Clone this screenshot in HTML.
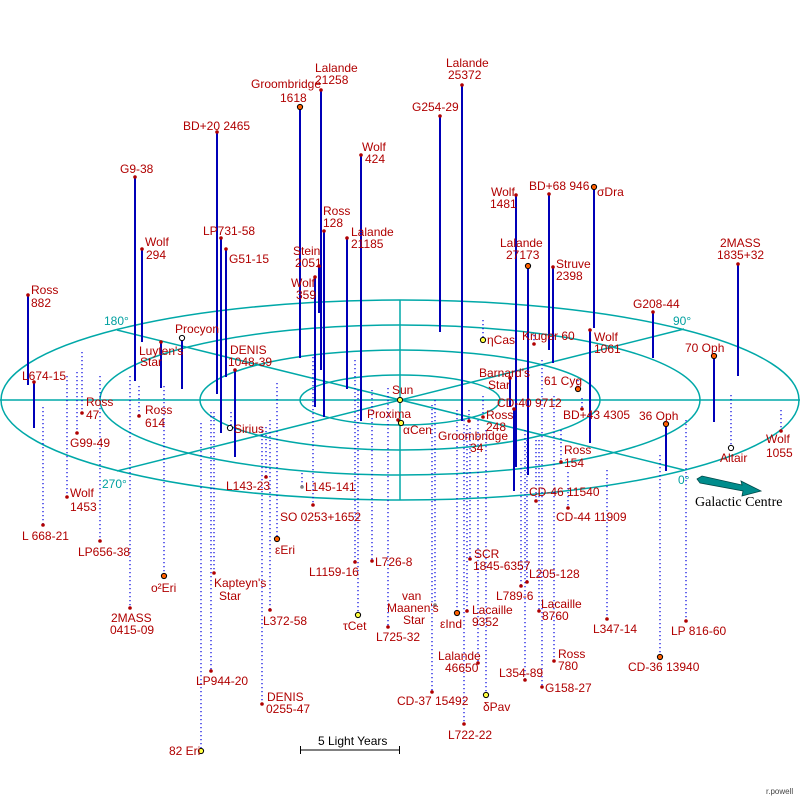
<!DOCTYPE html>
<html><head><meta charset="utf-8"><style>
html,body{margin:0;padding:0;background:#fff;}
svg{display:block;}
text{font-family:"Liberation Sans",sans-serif;font-size:12px;fill:#b00000;}
.t{fill:#00a0a0;}
.s{stroke:#0000b8;stroke-width:2;}
.d{stroke:#0000e0;stroke-width:1.2;stroke-dasharray:1.2 2.8;}
.g{fill:none;stroke:#00a8a8;stroke-width:1.5;}
.m{fill:#b00000;}
</style></head><body>
<svg width="800" height="800" viewBox="0 0 800 800" xmlns="http://www.w3.org/2000/svg">
<rect width="800" height="800" fill="#fff"/>
<!-- grid -->
<ellipse class="g" cx="400" cy="400" rx="100" ry="25"/>
<ellipse class="g" cx="400" cy="400" rx="200" ry="50"/>
<ellipse class="g" cx="400" cy="400" rx="300" ry="75"/>
<ellipse class="g" cx="400" cy="400" rx="399" ry="100"/>
<line class="g" x1="0" y1="400" x2="800" y2="400"/>
<line class="g" x1="400" y1="300" x2="400" y2="500"/>
<line class="g" x1="117" y1="330" x2="684" y2="470"/>
<line class="g" x1="117" y1="471" x2="684" y2="329"/>
<text class="t" x="104" y="325">180°</text>
<text class="t" x="673" y="325">90°</text>
<text class="t" x="102" y="488">270°</text>
<text class="t" x="678" y="484">0°</text>

<!-- solid (above plane) -->
<g>
<line class="s" x1="28" y1="295" x2="28" y2="385"/>
<line class="s" x1="34" y1="382" x2="34" y2="428"/>
<line class="s" x1="135" y1="177" x2="135" y2="381"/>
<line class="s" x1="142" y1="249" x2="142" y2="342"/>
<line class="s" x1="217" y1="132" x2="217" y2="394"/>
<line class="s" x1="221" y1="238" x2="221" y2="433"/>
<line class="s" x1="226" y1="249" x2="226" y2="377"/>
<line class="s" x1="161" y1="342" x2="161" y2="388"/>
<line class="s" x1="182" y1="338" x2="182" y2="389"/>
<line class="s" x1="235" y1="370" x2="235" y2="457"/>
<line class="s" x1="300" y1="107" x2="300" y2="358"/>
<line class="s" x1="321" y1="90" x2="321" y2="370"/>
<line class="s" x1="319" y1="266" x2="319" y2="313"/>
<line class="s" x1="315" y1="277" x2="315" y2="407"/>
<line class="s" x1="324" y1="231" x2="324" y2="417"/>
<line class="s" x1="347" y1="238" x2="347" y2="389"/>
<line class="s" x1="361" y1="155" x2="361" y2="421"/>
<line class="s" x1="440" y1="116" x2="440" y2="332"/>
<line class="s" x1="462" y1="85" x2="462" y2="421"/>
<line class="s" x1="516" y1="195" x2="516" y2="467"/>
<line class="s" x1="528" y1="266" x2="528" y2="475"/>
<line class="s" x1="549" y1="194" x2="549" y2="350"/>
<line class="s" x1="553" y1="267" x2="553" y2="363"/>
<line class="s" x1="594" y1="187" x2="594" y2="328"/>
<line class="s" x1="590" y1="330" x2="590" y2="443"/>
<line class="s" x1="738" y1="264" x2="738" y2="376"/>
<line class="s" x1="653" y1="312" x2="653" y2="358"/>
<line class="s" x1="714" y1="356" x2="714" y2="422"/>
<line class="s" x1="666" y1="424" x2="666" y2="471"/>
<line class="s" x1="510" y1="378" x2="510" y2="407"/>
<line class="s" x1="514" y1="409" x2="514" y2="491"/>
</g>
<!-- dotted (below plane) -->
<g>
<line class="d" x1="43" y1="407" x2="43" y2="525"/>
<line class="d" x1="82" y1="352" x2="82" y2="413"/>
<line class="d" x1="77" y1="372" x2="77" y2="433"/>
<line class="d" x1="67" y1="376" x2="67" y2="497"/>
<line class="d" x1="100" y1="376" x2="100" y2="541"/>
<line class="d" x1="130" y1="376" x2="130" y2="608"/>
<line class="d" x1="139" y1="386" x2="139" y2="416"/>
<line class="d" x1="164" y1="386" x2="164" y2="576"/>
<line class="d" x1="201" y1="423" x2="201" y2="751"/>
<line class="d" x1="214" y1="412" x2="214" y2="573"/>
<line class="d" x1="211" y1="412" x2="211" y2="671"/>
<line class="d" x1="262" y1="427" x2="262" y2="704"/>
<line class="d" x1="270" y1="420" x2="270" y2="610"/>
<line class="d" x1="277" y1="383" x2="277" y2="539"/>
<line class="d" x1="266" y1="427" x2="266" y2="477"/>
<line class="d" x1="302" y1="473" x2="302" y2="487"/>
<line class="d" x1="313" y1="357" x2="313" y2="505"/>
<line class="d" x1="355" y1="360" x2="355" y2="562"/>
<line class="d" x1="358" y1="390" x2="358" y2="615"/>
<line class="d" x1="372" y1="390" x2="372" y2="561"/>
<line class="d" x1="388" y1="388" x2="388" y2="627"/>
<line class="d" x1="435" y1="400" x2="435" y2="605"/>
<line class="d" x1="432" y1="405" x2="432" y2="692"/>
<line class="d" x1="457" y1="410" x2="457" y2="613"/>
<line class="d" x1="467" y1="425" x2="467" y2="611"/>
<line class="d" x1="470" y1="428" x2="470" y2="559"/>
<line class="d" x1="464" y1="420" x2="464" y2="724"/>
<line class="d" x1="478" y1="420" x2="478" y2="663"/>
<line class="d" x1="486" y1="430" x2="486" y2="695"/>
<line class="d" x1="483" y1="396" x2="483" y2="417"/>
<line class="d" x1="469" y1="410" x2="469" y2="421"/>
<line class="d" x1="521" y1="460" x2="521" y2="586"/>
<line class="d" x1="527" y1="440" x2="527" y2="582"/>
<line class="d" x1="525" y1="430" x2="525" y2="680"/>
<line class="d" x1="542" y1="360" x2="542" y2="687"/>
<line class="d" x1="539" y1="440" x2="539" y2="611"/>
<line class="d" x1="554" y1="396" x2="554" y2="661"/>
<line class="d" x1="568" y1="472" x2="568" y2="508"/>
<line class="d" x1="536" y1="440" x2="536" y2="501"/>
<line class="d" x1="561" y1="430" x2="561" y2="462"/>
<line class="d" x1="582" y1="398" x2="582" y2="409"/>
<line class="d" x1="534" y1="335" x2="534" y2="344"/>
<line class="d" x1="483" y1="320" x2="483" y2="340"/>
<line class="d" x1="607" y1="470" x2="607" y2="619"/>
<line class="d" x1="686" y1="420" x2="686" y2="621"/>
<line class="d" x1="660" y1="455" x2="660" y2="657"/>
<line class="d" x1="731" y1="395" x2="731" y2="448"/>
<line class="d" x1="781" y1="410" x2="781" y2="431"/>
<line class="d" x1="578" y1="380" x2="578" y2="389"/>
<line class="d" x1="231" y1="412" x2="231" y2="428"/>
</g>

<!-- markers -->
<g class="m">
<circle cx="28" cy="295" r="1.8"/><circle cx="34" cy="382" r="1.8"/><circle cx="135" cy="177" r="1.8"/>
<circle cx="142" cy="249" r="1.8"/><circle cx="217" cy="132" r="1.8"/><circle cx="221" cy="238" r="1.8"/>
<circle cx="226" cy="249" r="1.8"/><circle cx="161" cy="342" r="1.8"/><circle cx="235" cy="370" r="1.8"/>
<circle cx="321" cy="90" r="1.8"/><circle cx="319" cy="266" r="1.8"/><circle cx="315" cy="277" r="1.8"/>
<circle cx="324" cy="231" r="1.8"/><circle cx="347" cy="238" r="1.8"/><circle cx="361" cy="155" r="1.8"/>
<circle cx="440" cy="116" r="1.8"/><circle cx="462" cy="85" r="1.8"/><circle cx="516" cy="195" r="1.8"/>
<circle cx="549" cy="194" r="1.8"/><circle cx="553" cy="267" r="1.8"/><circle cx="590" cy="330" r="1.8"/>
<circle cx="738" cy="264" r="1.8"/><circle cx="653" cy="312" r="1.8"/><circle cx="510" cy="378" r="1.8"/>
<circle cx="514" cy="409" r="1.8"/>
<circle cx="43" cy="525" r="1.8"/><circle cx="82" cy="413" r="1.8"/><circle cx="77" cy="433" r="1.8"/>
<circle cx="67" cy="497" r="1.8"/><circle cx="100" cy="541" r="1.8"/><circle cx="130" cy="608" r="1.8"/>
<circle cx="139" cy="416" r="1.8"/><circle cx="214" cy="573" r="1.8"/><circle cx="211" cy="671" r="1.8"/>
<circle cx="262" cy="704" r="1.8"/><circle cx="270" cy="610" r="1.8"/><circle cx="266" cy="477" r="1.8"/>
<circle cx="313" cy="505" r="1.8"/><circle cx="355" cy="562" r="1.8"/><circle cx="372" cy="561" r="1.8"/>
<circle cx="388" cy="627" r="1.8"/><circle cx="432" cy="692" r="1.8"/><circle cx="467" cy="611" r="1.8"/>
<circle cx="470" cy="559" r="1.8"/><circle cx="464" cy="724" r="1.8"/><circle cx="478" cy="663" r="1.8"/>
<circle cx="483" cy="417" r="1.8"/><circle cx="469" cy="421" r="1.8"/><circle cx="521" cy="586" r="1.8"/>
<circle cx="527" cy="582" r="1.8"/><circle cx="525" cy="680" r="1.8"/><circle cx="542" cy="687" r="1.8"/>
<circle cx="539" cy="611" r="1.8"/><circle cx="554" cy="661" r="1.8"/><circle cx="568" cy="508" r="1.8"/>
<circle cx="536" cy="501" r="1.8"/><circle cx="561" cy="462" r="1.8"/><circle cx="582" cy="409" r="1.8"/>
<circle cx="534" cy="344" r="1.8"/><circle cx="607" cy="619" r="1.8"/><circle cx="686" cy="621" r="1.8"/>
<circle cx="781" cy="431" r="1.8"/><circle cx="398" cy="420" r="1.8"/>
</g>
<circle cx="302" cy="487" r="1.8" fill="#808080"/><circle cx="435" cy="605" r="1.8" fill="#808080"/>
<g stroke="#000" stroke-width="1">
<circle cx="300" cy="107" r="2.6" fill="#ff6000"/><circle cx="528" cy="266" r="2.6" fill="#ff6000"/>
<circle cx="594" cy="187" r="2.6" fill="#ff6000"/><circle cx="714" cy="356" r="2.6" fill="#ff6000"/>
<circle cx="666" cy="424" r="2.6" fill="#ff6000"/><circle cx="164" cy="576" r="2.6" fill="#ff6000"/>
<circle cx="277" cy="539" r="2.6" fill="#ff6000"/><circle cx="457" cy="613" r="2.6" fill="#ff6000"/>
<circle cx="578" cy="389" r="2.6" fill="#ff6000"/><circle cx="660" cy="657" r="2.6" fill="#ff6000"/>
<circle cx="201" cy="751" r="2.6" fill="#ffff40"/><circle cx="358" cy="615" r="2.6" fill="#ffff40"/>
<circle cx="486" cy="695" r="2.6" fill="#ffff40"/><circle cx="483" cy="340" r="2.6" fill="#ffff40"/>
<circle cx="400" cy="400" r="2.6" fill="#ffff40"/><circle cx="401" cy="423" r="2.6" fill="#ffff40"/>
<circle cx="182" cy="338" r="2.6" fill="#fff"/><circle cx="230" cy="428" r="2.6" fill="#fff"/>
<circle cx="731" cy="448" r="2.6" fill="#fff"/>
</g>

<!-- labels -->
<text x="31" y="294">Ross</text><text x="31" y="307">882</text>
<text x="22" y="380">L674-15</text>
<text x="120" y="173">G9-38</text>
<text x="145" y="246">Wolf</text><text x="146" y="259">294</text>
<text x="183" y="130">BD+20 2465</text>
<text x="203" y="235">LP731-58</text>
<text x="229" y="263">G51-15</text>
<text x="139" y="355">Luyten's</text><text x="140" y="366">Star</text>
<text x="175" y="333">Procyon</text>
<text x="230" y="354">DENIS</text><text x="228" y="366">1048-39</text>
<text x="251" y="88">Groombridge</text><text x="280" y="102">1618</text>
<text x="315" y="72">Lalande</text><text x="315" y="84">21258</text>
<text x="293" y="255">Stein</text><text x="295" y="267">2051</text>
<text x="291" y="287">Wolf</text><text x="296" y="299">359</text>
<text x="323" y="215">Ross</text><text x="323" y="227">128</text>
<text x="351" y="236">Lalande</text><text x="351" y="248">21185</text>
<text x="362" y="151">Wolf</text><text x="365" y="163">424</text>
<text x="412" y="111">G254-29</text>
<text x="446" y="67">Lalande</text><text x="448" y="79">25372</text>
<text x="491" y="196">Wolf</text><text x="490" y="208">1481</text>
<text x="500" y="247">Lalande</text><text x="506" y="259">27173</text>
<text x="529" y="190">BD+68 946</text>
<text x="556" y="268">Struve</text><text x="556" y="280">2398</text>
<text x="597" y="196">σDra</text>
<text x="594" y="341">Wolf</text><text x="594" y="353">1061</text>
<text x="720" y="247">2MASS</text><text x="717" y="259">1835+32</text>
<text x="633" y="308">G208-44</text>
<text x="685" y="352">70 Oph</text>
<text x="639" y="420">36 Oph</text>
<text x="479" y="377">Barnard's</text><text x="488" y="389">Star</text>
<text x="497" y="407">CD-40 9712</text>
<text x="486" y="419">Ross</text><text x="486" y="431">248</text>
<text x="438" y="440">Groombridge</text><text x="470" y="452">34</text>
<text x="487" y="344">ηCas</text>
<text x="522" y="340">Kruger 60</text>
<text x="544" y="385">61 Cyg</text>
<text x="563" y="419">BD+43 4305</text>
<text x="564" y="454">Ross</text><text x="564" y="467">154</text>
<text x="529" y="496">CD-46 11540</text>
<text x="556" y="521">CD-44 11909</text>
<text x="720" y="462">Altair</text>
<text x="766" y="443">Wolf</text><text x="766" y="457">1055</text>
<text x="392" y="394">Sun</text>
<text x="367" y="418">Proxima</text>
<text x="403" y="434">αCen</text>
<text x="234" y="433">Sirius</text>
<text x="86" y="406">Ross</text><text x="86" y="419">47</text>
<text x="70" y="447">G99-49</text>
<text x="70" y="497">Wolf</text><text x="70" y="511">1453</text>
<text x="22" y="540">L 668-21</text>
<text x="78" y="556">LP656-38</text>
<text x="111" y="622">2MASS</text><text x="110" y="634">0415-09</text>
<text x="145" y="414">Ross</text><text x="145" y="427">614</text>
<text x="151" y="592">o²Eri</text>
<text x="169" y="755">82 Eri</text>
<text x="214" y="587">Kapteyn's</text><text x="219" y="600">Star</text>
<text x="196" y="685">LP944-20</text>
<text x="267" y="701">DENIS</text><text x="266" y="713">0255-47</text>
<text x="263" y="625">L372-58</text>
<text x="275" y="554">εEri</text>
<text x="226" y="490">L143-23</text>
<text x="305" y="491">L145-141</text>
<text x="280" y="521">SO 0253+1652</text>
<text x="309" y="576">L1159-16</text>
<text x="343" y="630">τCet</text>
<text x="375" y="566">L726-8</text>
<text x="376" y="641">L725-32</text>
<text x="402" y="600">van</text><text x="387" y="612">Maanen's</text><text x="403" y="624">Star</text>
<text x="440" y="628">εInd</text>
<text x="472" y="614">Lacaille</text><text x="472" y="626">9352</text>
<text x="474" y="558">SCR</text><text x="473" y="570">1845-6357</text>
<text x="448" y="739">L722-22</text>
<text x="438" y="660">Lalande</text><text x="445" y="672">46650</text>
<text x="397" y="705">CD-37 15492</text>
<text x="483" y="711">δPav</text>
<text x="496" y="600">L789-6</text>
<text x="529" y="578">L205-128</text>
<text x="499" y="677">L354-89</text>
<text x="545" y="692">G158-27</text>
<text x="541" y="608">Lacaille</text><text x="542" y="620">8760</text>
<text x="558" y="658">Ross</text><text x="558" y="670">780</text>
<text x="593" y="633">L347-14</text>
<text x="671" y="635">LP 816-60</text>
<text x="628" y="671">CD-36 13940</text>

<!-- galactic centre arrow -->
<polygon points="697,479 702,476 742,485 741,481 761,491 742,496 743,491 700,483" fill="#008c8c" stroke="#004848" stroke-width="0.8"/>
<text x="695" y="506" style="font-family:'Liberation Serif',serif;font-size:14px;fill:#000">Galactic Centre</text>

<!-- scale -->
<line x1="300" y1="750" x2="400" y2="750" stroke="#000" stroke-width="1"/>
<line x1="300.5" y1="746" x2="300.5" y2="754" stroke="#000"/>
<line x1="399.5" y1="746" x2="399.5" y2="754" stroke="#000"/>
<text x="318" y="745" style="fill:#000">5 Light Years</text>
<text x="766" y="794" style="fill:#444;font-size:8px">r.powell</text>
</svg>
</body></html>
